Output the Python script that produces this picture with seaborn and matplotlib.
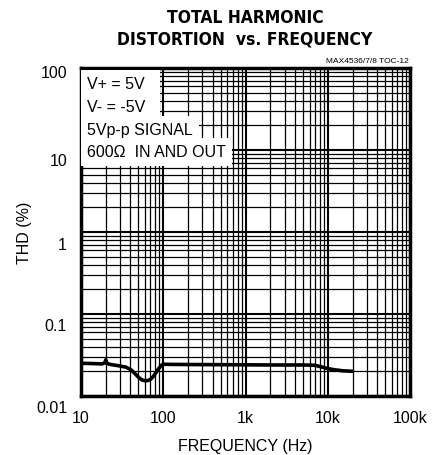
import numpy as np
import pandas as pd
import matplotlib
matplotlib.use('Agg')
import matplotlib.pyplot as plt
import matplotlib.ticker as mticker
import matplotlib.transforms as mtransforms
import seaborn as sns

# curve
freq = [10, 15, 18, 19.5, 20, 20.5, 22, 25, 30, 35, 40, 45, 50, 55, 60, 65, 70, 75, 80, 87, 95, 100,
        120, 200, 500, 1000, 2000, 5000, 7000, 8000, 10000, 12000, 15000, 20000]
thd = [0.0252, 0.0249, 0.0247, 0.0255, 0.0277, 0.0255, 0.0245, 0.0240, 0.0233, 0.0226, 0.0212, 0.0190,
       0.0170, 0.0158, 0.0154, 0.0155, 0.0160, 0.0172, 0.0188, 0.0213, 0.0238, 0.0245,
       0.0244, 0.0243, 0.0242, 0.0241, 0.0240, 0.0240, 0.0238, 0.0230, 0.0217, 0.0210, 0.0204, 0.0201]

x_ticks = [10, 100, 1000, 10000, 100000]
x_labels = ['10', '100', '1k', '10k', '100k']
y_ticks = [0.01, 0.1, 1, 10, 100]
y_labels = ['0.01', '0.1', '1', '10', '100']
notes = ['V+ = 5V  ', 'V- = -5V  ', '5Vp-p SIGNAL', '600\u03a9  IN AND OUT']

sns.set_style('white')
plt.rcParams['font.family'] = ['Liberation Sans', 'DejaVu Sans']
plt.rcParams['text.color'] = 'black'
plt.rcParams['axes.labelcolor'] = 'black'
plt.rcParams['xtick.color'] = 'black'
plt.rcParams['ytick.color'] = 'black'

df = pd.DataFrame({'freq': freq, 'thd': thd})

fig = plt.figure(figsize=(4.4, 4.56), dpi=100)
ax = fig.add_axes([0.184, 0.129, 0.748, 0.72])

sns.lineplot(data=df, x='freq', y='thd', color='black', linewidth=2.6, ax=ax, zorder=5)

ax.set_xscale('log')
ax.set_yscale('log')
ax.set_xlim(10, 100000)
ax.set_ylim(0.01, 100)

ax.xaxis.set_major_locator(mticker.FixedLocator(x_ticks))
ax.xaxis.set_major_formatter(mticker.FixedFormatter(x_labels))
ax.yaxis.set_major_locator(mticker.FixedLocator(y_ticks))
ax.yaxis.set_major_formatter(mticker.FixedFormatter(y_labels))
ax.xaxis.set_minor_locator(mticker.LogLocator(base=10, subs=np.arange(2, 10)))
ax.yaxis.set_minor_locator(mticker.LogLocator(base=10, subs=np.arange(2, 10)))
ax.xaxis.set_minor_formatter(mticker.NullFormatter())
ax.yaxis.set_minor_formatter(mticker.NullFormatter())

ax.grid(which='major', color='black', linewidth=1.5)
ax.grid(which='minor', color='black', linewidth=0.9)
ax.tick_params(which='both', length=0, labelsize=11.5)
ax.tick_params(axis='x', pad=10)
ax.tick_params(axis='y', pad=10)
for s in ax.spines.values():
    s.set_linewidth(2.5)
    s.set_color('black')

# y labels sit a little under their lines in the original
shifts = [-10, -10, -11, -9, -3]
for lab, dy in zip(ax.get_yticklabels(), shifts):
    lab.set_transform(lab.get_transform() + mtransforms.ScaledTranslation(0, dy / 100, fig.dpi_scale_trans))

ax.set_xlabel('FREQUENCY (Hz)', fontsize=11.5, labelpad=9)
ax.set_ylabel('THD (%)', fontsize=11.5, labelpad=3)

for i, t in enumerate(notes):
    ax.text(0.018, 0.951 - i * 0.069, t, transform=ax.transAxes, fontsize=11.5,
            va='center', ha='left', zorder=6,
            bbox=dict(facecolor='white', edgecolor='none', pad=4.5))

fig.text(0.557, 0.937, 'TOTAL HARMONIC\nDISTORTION  vs. FREQUENCY', ha='center', va='center',
         fontsize=12.5, fontweight='bold', linespacing=1.2, fontstretch='condensed',
         family=['DejaVu Sans'])
fig.text(0.928, 0.866, 'MAX4536/7/8 TOC-12', ha='right', va='center', fontsize=6,
         family=['Liberation Sans Narrow', 'Liberation Sans', 'DejaVu Sans'])

fig.savefig('out.png', dpi=100)
